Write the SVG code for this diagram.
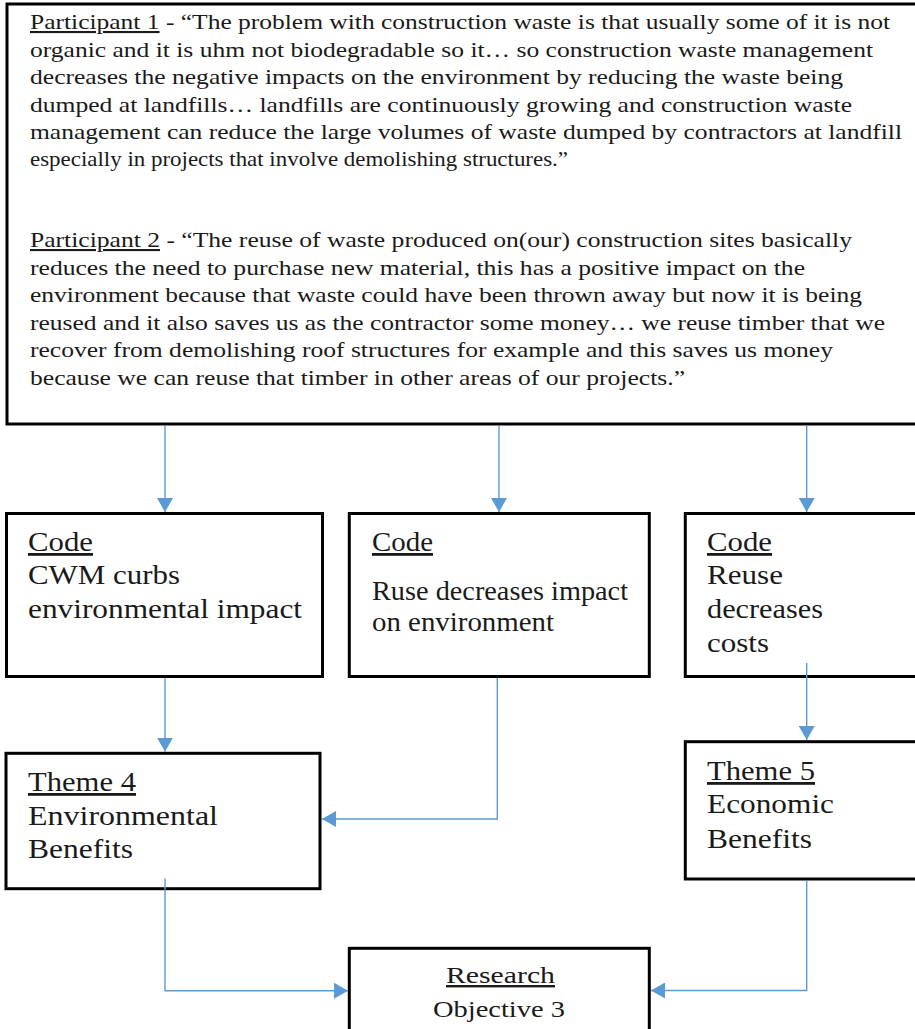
<svg xmlns="http://www.w3.org/2000/svg" width="915" height="1029" viewBox="0 0 915 1029">
<style>
.box{fill:#fff;stroke:#000;stroke-width:3}
.t{font-family:"Liberation Serif","Times New Roman",serif;fill:#1a1a1a}
.s{font-size:21px}
.m{font-size:28px}
.r{font-size:24px}
.u{text-decoration:underline}
.c{fill:none;stroke:#5b9bd5;stroke-width:1.4}
</style>
<defs>
<marker id="ah" markerUnits="userSpaceOnUse" markerWidth="14" markerHeight="16" viewBox="0 0 14 16" refX="14" refY="8" orient="auto">
<path d="M0,0 L14,8 L0,16 z" fill="#5b9bd5"/>
</marker>
</defs>
<rect width="915" height="1029" fill="#fff"/>
<g id="quotes">
<rect class="box" x="7" y="4" width="915" height="420"/>
<text class="t s" x="30" y="29" textLength="860" lengthAdjust="spacingAndGlyphs"><tspan class="u">Participant 1</tspan> - “The problem with construction waste is that usually some of it is not</text>
<text class="t s" x="30" y="56.5" textLength="843" lengthAdjust="spacingAndGlyphs">organic and it is uhm not biodegradable so it… so construction waste management</text>
<text class="t s" x="30" y="84" textLength="813" lengthAdjust="spacingAndGlyphs">decreases the negative impacts on the environment by reducing the waste being</text>
<text class="t s" x="30" y="111.5" textLength="822" lengthAdjust="spacingAndGlyphs">dumped at landfills… landfills are continuously growing and construction waste</text>
<text class="t s" x="30" y="139" textLength="872" lengthAdjust="spacingAndGlyphs">management can reduce the large volumes of waste dumped by contractors at landfill</text>
<text class="t s" x="30" y="166" textLength="538" lengthAdjust="spacingAndGlyphs">especially in projects that involve demolishing structures.”</text>
<text class="t s" x="30" y="247" textLength="822" lengthAdjust="spacingAndGlyphs"><tspan class="u">Participant 2</tspan> - “The reuse of waste produced on(our) construction sites basically</text>
<text class="t s" x="30" y="274.5" textLength="775" lengthAdjust="spacingAndGlyphs">reduces the need to purchase new material, this has a positive impact on the</text>
<text class="t s" x="30" y="302" textLength="832" lengthAdjust="spacingAndGlyphs">environment because that waste could have been thrown away but now it is being</text>
<text class="t s" x="30" y="329.5" textLength="855" lengthAdjust="spacingAndGlyphs">reused and it also saves us as the contractor some money… we reuse timber that we</text>
<text class="t s" x="30" y="357" textLength="803" lengthAdjust="spacingAndGlyphs">recover from demolishing roof structures for example and this saves us money</text>
<text class="t s" x="30" y="384.5" textLength="655" lengthAdjust="spacingAndGlyphs">because we can reuse that timber in other areas of our projects.”</text>
</g>
<g id="code1">
<rect class="box" x="6.5" y="513.5" width="316" height="163"/>
<text class="t m u" x="28" y="551" textLength="65" lengthAdjust="spacingAndGlyphs">Code</text>
<text class="t m" x="28" y="584" textLength="152" lengthAdjust="spacingAndGlyphs">CWM curbs</text>
<text class="t m" x="28" y="618" textLength="274" lengthAdjust="spacingAndGlyphs">environmental impact</text>
</g>
<g id="code2">
<rect class="box" x="349.3" y="513.5" width="300" height="163"/>
<text class="t m u" x="372" y="551" textLength="61" lengthAdjust="spacingAndGlyphs">Code</text>
<text class="t m" x="372" y="600" textLength="256" lengthAdjust="spacingAndGlyphs">Ruse decreases impact</text>
<text class="t m" x="372" y="631" textLength="182" lengthAdjust="spacingAndGlyphs">on environment</text>
</g>
<g id="code3">
<rect class="box" x="685.3" y="513.5" width="240" height="163"/>
<text class="t m u" x="707" y="551" textLength="65" lengthAdjust="spacingAndGlyphs">Code</text>
<text class="t m" x="707" y="584" textLength="76" lengthAdjust="spacingAndGlyphs">Reuse</text>
<text class="t m" x="707" y="618" textLength="116" lengthAdjust="spacingAndGlyphs">decreases</text>
<text class="t m" x="707" y="652" textLength="62" lengthAdjust="spacingAndGlyphs">costs</text>
</g>
<g id="theme4">
<rect class="box" x="6" y="753.3" width="314" height="135.4"/>
<text class="t m u" x="28" y="791" textLength="108" lengthAdjust="spacingAndGlyphs">Theme 4</text>
<text class="t m" x="28" y="825" textLength="190" lengthAdjust="spacingAndGlyphs">Environmental</text>
<text class="t m" x="28" y="858" textLength="105" lengthAdjust="spacingAndGlyphs">Benefits</text>
</g>
<g id="theme5">
<rect class="box" x="685.3" y="741.7" width="240" height="137.3"/>
<text class="t m u" x="707" y="780" textLength="108" lengthAdjust="spacingAndGlyphs">Theme 5</text>
<text class="t m" x="707" y="813" textLength="127" lengthAdjust="spacingAndGlyphs">Economic</text>
<text class="t m" x="707" y="848" textLength="105" lengthAdjust="spacingAndGlyphs">Benefits</text>
</g>
<g id="research">
<rect class="box" x="349.3" y="948.3" width="300" height="100"/>
<text class="t r u" x="446" y="983" textLength="109" lengthAdjust="spacingAndGlyphs">Research</text>
<text class="t r" x="433" y="1017" textLength="132" lengthAdjust="spacingAndGlyphs">Objective 3</text>
</g>
<g id="connectors">
<path class="c" d="M165,425.5 V512" marker-end="url(#ah)"/>
<path class="c" d="M499,425.5 V512" marker-end="url(#ah)"/>
<path class="c" d="M806.7,425.5 V512" marker-end="url(#ah)"/>
<path class="c" d="M165,678 V751.7" marker-end="url(#ah)"/>
<path class="c" d="M497.3,678 V819 H322" marker-end="url(#ah)"/>
<path class="c" d="M806.7,663 V740" marker-end="url(#ah)"/>
<path class="c" d="M165,878.5 V990.7 H348" marker-end="url(#ah)"/>
<path class="c" d="M806.7,880.5 V990.5 H651" marker-end="url(#ah)"/>
</g>
</svg>
